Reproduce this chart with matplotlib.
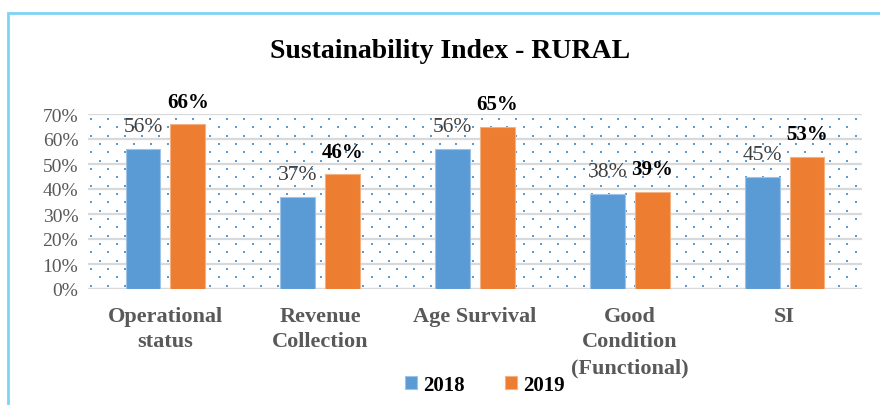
import matplotlib.pyplot as plt
import matplotlib.patches as patches
import numpy as np

categories = ["Operational\nstatus", "Revenue\nCollection", "Age Survival",
              "Good\nCondition\n(Functional)", "SI"]
values_2018 = [56, 37, 56, 38, 45]
values_2019 = [66, 46, 65, 39, 53]
years = ["2018", "2019"]
yticks = [0, 10, 20, 30, 40, 50, 60, 70]

blue = "#5b9bd5"
orange = "#ed7d31"
font = "Liberation Serif"

fig = plt.figure(figsize=(8.8, 4.06), dpi=100)
ax = fig.add_axes([88 / 880, 1 - 290 / 406, 774 / 880, 175 / 406])

# light blue frame around the chart
fig.patches.append(patches.Rectangle((8 / 880, -0.1), 1.0, 1.1 - 14 / 406,
                                     transform=fig.transFigure, fill=False,
                                     edgecolor="#7fd3f5", linewidth=2))

# dotted background pattern (pixel spacing in axes fraction)
dx, dy = 17 / 774, (25 / 3) / 175
xs, ys = [], []
row = 0
y = 1 - 5 / 175
while y > 0:
    off = 0 if row % 2 == 0 else dx / 2
    for x in np.arange(off + 3 / 774, 1, dx):
        xs.append(x)
        ys.append(y)
    y -= dy
    row += 1
ax.scatter(xs, ys, s=2.2, marker="s", color=blue, linewidths=0,
           transform=ax.transAxes, zorder=0)

x = np.arange(len(categories))
w = 0.225
gap = 0.065
b1 = ax.bar(x - (w + gap) / 2, values_2018, w, color=blue, edgecolor="#9dc3e6",
            linewidth=0.8, label=years[0], zorder=3)
b2 = ax.bar(x + (w + gap) / 2, values_2019, w, color=orange, edgecolor="#f4b183",
            linewidth=0.8, label=years[1], zorder=3)

for rect, v in zip(b1, values_2018):
    ax.annotate(f"{v}%", (rect.get_x() + rect.get_width() / 2, v),
                xytext=(0, 16), textcoords="offset points", ha="center",
                va="center", fontsize=15.5, family=font, color="#404040",
                annotation_clip=False)
for rect, v in zip(b2, values_2019):
    ax.annotate(f"{v}%", (rect.get_x() + rect.get_width() / 2, v),
                xytext=(0, 16), textcoords="offset points", ha="center",
                va="center", fontsize=15, family=font, color="black",
                fontweight="bold", annotation_clip=False)

ax.set_xlim(-0.5, len(categories) - 0.5)
ax.set_ylim(0, 70)
ax.set_yticks(yticks)
ax.set_yticklabels([f"{t}%" for t in yticks], family=font, fontsize=14,
                   color="#595959")
ax.set_xticks(x)
ax.set_xticklabels(categories, family=font, fontsize=16, fontweight="bold",
                   color="#595959", linespacing=1.38, va="top")
ax.tick_params(axis="both", length=0)
ax.tick_params(axis="x", pad=12)
ax.tick_params(axis="y", pad=7)
ax.yaxis.grid(True, color="#d9d9d9", linewidth=1.6, zorder=1)
ax.set_axisbelow(False)
for s in ax.spines.values():
    s.set_visible(False)
ax.axhline(0, color="#d9d9d9", linewidth=1.6, zorder=2)

fig.text(450 / 880, 1 - 52 / 406, "Sustainability Index - RURAL", ha="center",
         va="center", family=font, fontsize=20, fontweight="bold")

leg = fig.legend(handles=[b1, b2], loc="center", bbox_to_anchor=(485 / 880, 1 - 386 / 406),
                 ncol=2, frameon=False, handlelength=0.6, handleheight=0.6,
                 handletextpad=0.3, columnspacing=1.9,
                 prop={"family": font, "size": 15, "weight": "bold"})

fig.savefig("out.png", dpi=100, facecolor="white")
